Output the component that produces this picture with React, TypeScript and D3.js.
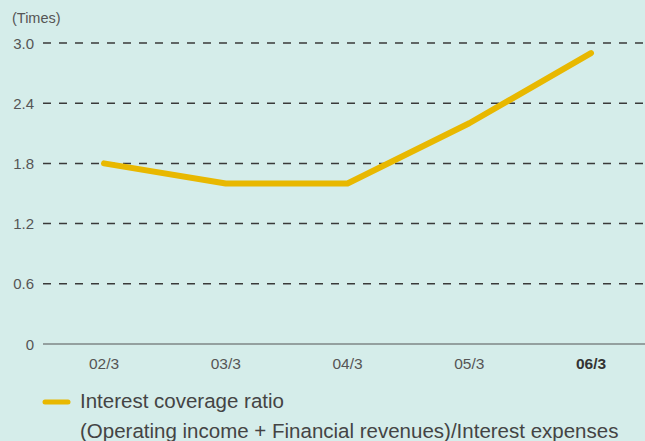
import React from "react";
import * as d3 from "d3";

const categories = ["02/3", "03/3", "04/3", "05/3", "06/3"];
const values = [1.8, 1.6, 1.6, 2.2, 2.9];
const yTicks = [0, 0.6, 1.2, 1.8, 2.4, 3.0];
const unitLabel = "(Times)";
const legendLine1 = "Interest coverage ratio";
const legendLine2 = "(Operating income + Financial revenues)/Interest expenses";

export default function App() {
  const W = 645, H = 441;
  const x = d3.scalePoint<string>().domain(categories).range([104, 591]);
  const y = d3.scaleLinear().domain([0, 3]).range([344, 43]);
  const line = d3
    .line<number>()
    .x((_, i) => x(categories[i]) as number)
    .y((d) => y(d));
  const font = "'Liberation Sans', Arial, sans-serif";
  return (
    <svg width={W} height={H} style={{ position: "absolute", left: 0, top: 0 }}>
      <rect x={0} y={0} width={W} height={H} fill="#d5edea" />
      <text x={12} y={23} fontSize={14.5} fill="#555" fontFamily={font}>{unitLabel}</text>
      {yTicks.map((t) => (
        <g key={t}>
          <text x={34} y={y(t) + 5.5} fontSize={15} fill="#555" textAnchor="end" fontFamily={font}>
            {t === 0 ? "0" : t.toFixed(1)}
          </text>
          {t === 0 ? (
            <line x1={43} x2={W} y1={y(t)} y2={y(t)} stroke="#555" strokeWidth={1.2} />
          ) : (
            <line x1={43} x2={W} y1={y(t)} y2={y(t)} stroke="#3a3a3a" strokeWidth={1.5} strokeDasharray="8 8" />
          )}
        </g>
      ))}
      {categories.map((c, i) => (
        <text key={c} x={x(c)} y={369} fontSize={15.5} fill={i === categories.length - 1 ? "#333" : "#555"}
          fontWeight={i === categories.length - 1 ? "bold" : "normal"} textAnchor="middle" fontFamily={font}>
          {c}
        </text>
      ))}
      <path d={line(values) || ""} fill="none" stroke="#e8b800" strokeWidth={6} strokeLinecap="round" strokeLinejoin="round" />
      <line x1={45} x2={68} y1={402} y2={402} stroke="#e8b800" strokeWidth={5} strokeLinecap="round" />
      <text x={80} y={408} fontSize={20.5} fill="#444" fontFamily={font}>{legendLine1}</text>
      <text x={80} y={438} fontSize={20.5} fill="#444" fontFamily={font}>{legendLine2}</text>
    </svg>
  );
}
